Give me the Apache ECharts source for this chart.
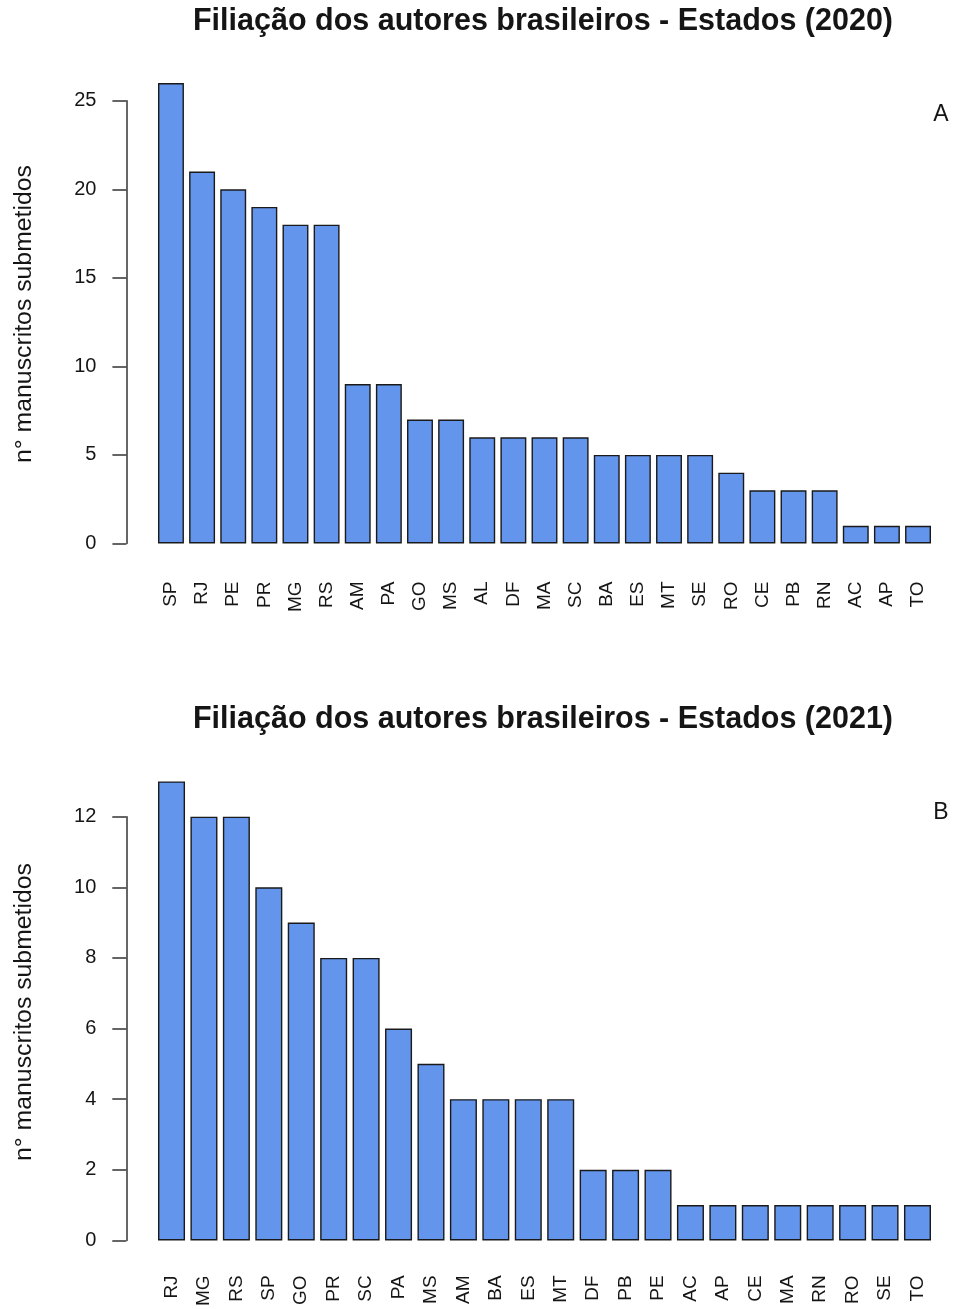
<!DOCTYPE html>
<html>
<head>
<meta charset="utf-8">
<title>Filiação dos autores brasileiros - Estados</title>
<script src="https://cdn.jsdelivr.net/npm/echarts@6/dist/echarts.min.js"></script>
<style>
  html, body { margin: 0; padding: 0; background: #ffffff; }
  #chart { width: 954px; height: 1309px; }
</style>
</head>
<body>
<div id="chart"></div>
<script>
// Manuscripts submitted by Brazilian state of the authors' affiliation
const states2020 = ['SP','RJ','PE','PR','MG','RS','AM','PA','GO','MS','AL','DF','MA','SC','BA','ES','MT','SE','RO','CE','PB','RN','AC','AP','TO'];
const counts2020 = [26, 21, 20, 19, 18, 18, 9, 9, 7, 7, 6, 6, 6, 6, 5, 5, 5, 5, 4, 3, 3, 3, 1, 1, 1];

const states2021 = ['RJ','MG','RS','SP','GO','PR','SC','PA','MS','AM','BA','ES','MT','DF','PB','PE','AC','AP','CE','MA','RN','RO','SE','TO'];
const counts2021 = [13, 12, 12, 10, 9, 8, 8, 6, 5, 4, 4, 4, 4, 2, 2, 2, 1, 1, 1, 1, 1, 1, 1, 1];

const titles = ['Filiação dos autores brasileiros - Estados (2020)', 'Filiação dos autores brasileiros - Estados (2021)'];
const panelTags = ['A', 'B'];
const yLabel = 'n° manuscritos submetidos';
const yTicks2020 = { max: 25, interval: 5 };
const yTicks2021 = { max: 12, interval: 2 };

const FONT = "'Liberation Sans', Arial, sans-serif";
const INK = '#151515';
const BAR = '#6495ED';

const chart = echarts.init(document.getElementById('chart'), null, { renderer: 'canvas' });

function yAxisFor(gridIndex, ticks) {
  return {
    type: 'value',
    gridIndex: gridIndex,
    min: 0,
    max: ticks.max,
    interval: ticks.interval,
    offset: 29,
    splitLine: { show: false },
    axisLine: { show: true, lineStyle: { color: '#333', width: 1.5 } },
    axisTick: { show: true, length: 14, lineStyle: { color: '#333', width: 1.5 } },
    axisLabel: { margin: 30, color: INK, fontFamily: FONT, fontSize: 20 }
  };
}

function xAxisFor(gridIndex, cats, margin) {
  return {
    type: 'category',
    gridIndex: gridIndex,
    data: cats,
    boundaryGap: true,
    axisLine: { show: false },
    axisTick: { show: false },
    axisLabel: { rotate: 90, interval: 0, margin: margin, color: INK, fontFamily: FONT, fontSize: 19 }
  };
}

function barSeries(idx, values) {
  return {
    type: 'bar',
    xAxisIndex: idx,
    yAxisIndex: idx,
    data: values,
    clip: false,
    barCategoryGap: '16.7%',
    itemStyle: { color: BAR, borderColor: '#1a1a1a', borderWidth: 1.4 },
    emphasis: { disabled: true },
    silent: true
  };
}

function text(str, x, y, size, weight, rotation) {
  return {
    type: 'text',
    x: x, y: y,
    rotation: rotation || 0,
    silent: true,
    style: {
      text: str,
      fill: INK,
      font: (weight || 'normal') + ' ' + size + 'px ' + FONT,
      align: 'center',
      verticalAlign: 'middle'
    }
  };
}

chart.setOption({
  animation: false,
  backgroundColor: '#ffffff',
  grid: [
    { left: 155.4, width: 778.2, top: 100.7, height: 442.8, containLabel: false },
    { left: 155.3, width: 778.4, top: 816.7, height: 425.6, containLabel: false }
  ],
  xAxis: [xAxisFor(0, states2020, 38), xAxisFor(1, states2021, 35)],
  yAxis: [yAxisFor(0, yTicks2020), yAxisFor(1, yTicks2021)],
  series: [barSeries(0, counts2020), barSeries(1, counts2021)],
  graphic: [
    text(titles[0], 543, 22, 30.5, 'bold'),
    text(titles[1], 543, 720, 30.5, 'bold'),
    text(yLabel, 24, 314, 24.8, 'normal', Math.PI / 2),
    text(yLabel, 24, 1012, 24.8, 'normal', Math.PI / 2),
    text(panelTags[0], 941, 115, 23),
    text(panelTags[1], 941, 813, 23)
  ]
});
</script>
</body>
</html>
